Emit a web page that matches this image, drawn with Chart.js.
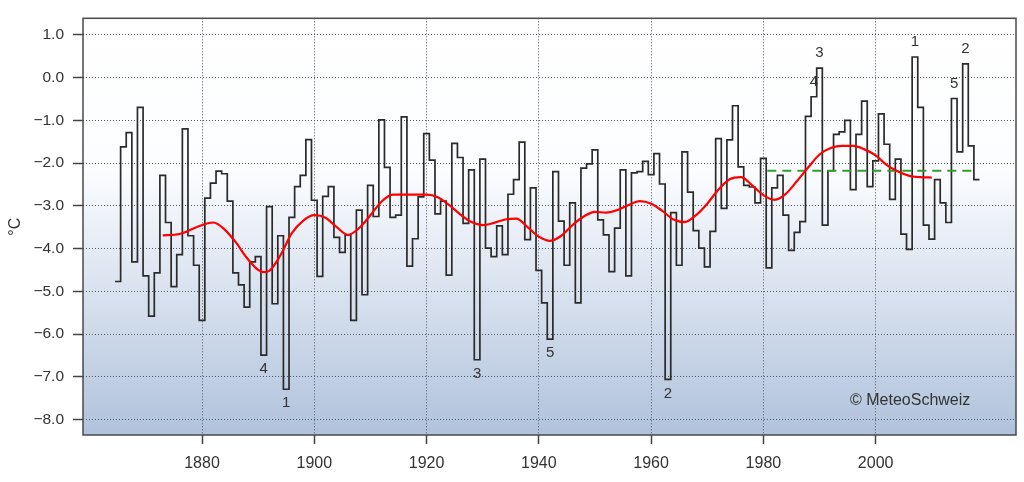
<!DOCTYPE html>
<html lang="de">
<head>
<meta charset="utf-8">
<title>Temperatur Winter</title>
<script src="https://cdnjs.cloudflare.com/ajax/libs/Chart.js/4.4.1/chart.umd.min.js"></script>
<style>
  body { margin: 0; background: #fff; }
</style>

<script>
// yearly values, one per year starting at firstYear
var firstYear = 1865;
var temps = [
  -4.77, -1.62, -1.29, -4.31, -0.70, -4.64, -5.58, -4.57, -2.29, -3.39,   // 1865-1874
  -4.89, -4.14, -1.20, -3.70, -4.39, -5.68, -2.82, -2.47, -2.19, -2.25,   // 1875-1884
  -2.89, -4.57, -4.85, -5.37, -4.31, -4.19, -6.49, -3.02, -5.29, -3.70,   // 1885-1894
  -7.29, -3.27, -2.55, -2.29, -1.45, -2.87, -4.65, -2.78, -2.55, -3.74,   // 1895-1904
  -4.09, -3.68, -5.68, -3.10, -5.08, -2.52, -3.25, -0.99, -2.10, -3.27,   // 1905-1914
  -3.22, -0.92, -4.41, -3.77, -2.79, -1.31, -1.93, -3.19, -2.89, -4.62,   // 1915-1924
  -1.54, -1.87, -3.41, -2.16, -6.60, -1.91, -3.99, -4.19, -3.47, -4.14,   // 1925-1934
  -2.73, -2.39, -1.51, -3.79, -2.58, -4.51, -5.27, -6.12, -2.20, -3.36,   // 1935-1944
  -4.39, -2.93, -5.27, -2.12, -2.02, -1.69, -3.33, -3.68, -4.54, -3.52,   // 1945-1954
  -2.16, -4.64, -2.23, -2.20, -1.96, -2.27, -1.78, -2.49, -7.06, -3.16,   // 1955-1964
  -4.39, -1.74, -2.68, -3.58, -3.99, -4.43, -3.60, -1.43, -3.06, -1.46,   // 1965-1974
  -0.66, -2.09, -2.52, -2.56, -2.93, -1.89, -4.45, -2.58, -2.29, -3.22,   // 1975-1984
  -4.04, -3.62, -3.37, -0.91, -0.45, 0.22, -3.45, -2.18, -1.33, -1.27,    // 1985-1994
  -1.00, -2.62, -1.33, -0.55, -2.55, -1.95, -0.85, -1.56, -2.85, -1.91,   // 1995-2004
  -3.66, -4.02, 0.48, -0.70, -3.45, -3.78, -2.39, -2.93, -3.39, -0.49,    // 2005-2014
  -1.74, 0.32, -1.60, -2.39                                               // 2015-2018
];

var smoothYears = [1873, 1876, 1879, 1882, 1884, 1886, 1888, 1890, 1891, 1892, 1894, 1896, 1898,
  1900, 1902, 1904, 1906, 1908, 1910, 1912, 1914, 1917, 1920, 1922, 1924, 1926, 1928, 1930,
  1932, 1934, 1936, 1938, 1940, 1942, 1944, 1946, 1948, 1950, 1952, 1954, 1956, 1958, 1960,
  1962, 1964, 1966, 1968, 1970, 1972, 1974, 1976, 1978, 1980, 1982, 1984, 1986, 1988, 1990,
  1992, 1994, 1996, 1998, 2000, 2002, 2004, 2006, 2008, 2010];
var smoothVals = [-3.69, -3.66, -3.50, -3.39, -3.55, -3.85, -4.22, -4.50, -4.55, -4.52, -4.15, -3.64, -3.35,
  -3.22, -3.28, -3.50, -3.68, -3.52, -3.22, -2.90, -2.74, -2.74, -2.74, -2.80, -2.98, -3.20, -3.38, -3.45,
  -3.40, -3.32, -3.30, -3.50, -3.72, -3.82, -3.70, -3.45, -3.25, -3.14, -3.16, -3.10, -2.98, -2.89, -2.95,
  -3.12, -3.32, -3.38, -3.22, -2.95, -2.62, -2.38, -2.33, -2.52, -2.75, -2.86, -2.72, -2.42, -2.10, -1.80,
  -1.65, -1.60, -1.60, -1.68, -1.82, -2.05, -2.20, -2.30, -2.33, -2.34];

// norm line (green dashed)
var normalFrom = 1980.7;
var normalTo = 2017.2;
var normalVal = -2.18;

// ranks of warmest / coldest years
var rankYears = [2007, 2016, 1990, 1989, 2014, 1895, 1963, 1929, 1891, 1942];
var rankLabels = ['1', '2', '3', '4', '5', '1', '2', '3', '4', '5'];
var rankWarm = [true, true, true, true, true, false, false, false, false, false];

var xTicks = [1880, 1900, 1920, 1940, 1960, 1980, 2000];
var yTicks = [1, 0, -1, -2, -3, -4, -5, -6, -7, -8];

function tempAt(year){
  return temps[year - firstYear];
}

var backdrop = {
  id: 'backdrop',
  beforeDraw: function(chart){
    var ctx = chart.ctx, a = chart.chartArea;
    ctx.save();
    ctx.fillStyle = '#ffffff';
    ctx.fillRect(0, 0, chart.width, chart.height);
    var g = ctx.createLinearGradient(0, a.top, 0, a.bottom);
    g.addColorStop(0, '#ffffff');
    g.addColorStop(0.36, '#fcfdff');
    g.addColorStop(1, '#b0c2dc');
    ctx.fillStyle = g;
    ctx.fillRect(a.left, a.top, a.right - a.left, a.bottom - a.top);
    ctx.restore();
  },
  afterDraw: function(chart){
    var ctx = chart.ctx, a = chart.chartArea;
    var xs = chart.scales.x, ys = chart.scales.y;
    ctx.save();
    // rank numbers
    ctx.fillStyle = '#333';
    ctx.font = '15px "Liberation Sans", Arial, sans-serif';
    ctx.textAlign = 'center';
    ctx.textBaseline = 'middle';
    for (var i = 0; i < rankYears.length; i++) {
      var px = xs.getPixelForValue(rankYears[i]);
      var py = ys.getPixelForValue(tempAt(rankYears[i]));
      ctx.fillText(rankLabels[i], px, rankWarm[i] ? py - 15 : py + 14);
    }
    // copyright
    ctx.font = '16px "Liberation Sans", Arial, sans-serif';
    ctx.textAlign = 'left';
    ctx.fillText('\u00a9 MeteoSchweiz', 850, 401);
    // frame
    ctx.strokeStyle = '#4a4a4a';
    ctx.lineWidth = 1.5;
    ctx.strokeRect(a.left, a.top, a.right - a.left, a.bottom - a.top);
    ctx.restore();
  }
};

function go(){
  var stepPts = temps.map(function(v, i){ return {x: firstYear + i - 0.5, y: v}; });
  stepPts.push({x: firstYear + temps.length - 0.5, y: temps[temps.length - 1]});

  var smoothPts = smoothYears.map(function(y, i){ return {x: y, y: smoothVals[i]}; });

  Chart.defaults.font.family = '"Liberation Sans", Arial, sans-serif';
  Chart.defaults.color = '#333';

  var ctx = document.getElementById('myChart');
  new Chart(ctx, {
    type: 'line',
    data: {
      datasets: [{
        label: 'Jahreswerte',
        data: stepPts,
        stepped: 'before',
        borderColor: '#2a2a2a',
        borderWidth: 1.7,
        pointRadius: 0,
        fill: false,
        order: 3
      }, {
        label: 'Norm',
        data: [{x: normalFrom, y: normalVal}, {x: normalTo, y: normalVal}],
        borderColor: '#2f9e2f',
        borderWidth: 2,
        borderDash: [9, 6],
        pointRadius: 0,
        fill: false,
        order: 2
      }, {
        label: 'Gauss',
        data: smoothPts,
        borderColor: '#ff0000',
        borderWidth: 2.2,
        cubicInterpolationMode: 'monotone',
        pointRadius: 0,
        fill: false,
        order: 1
      }]
    },
    options: {
      responsive: false,
      animation: false,
      devicePixelRatio: 1,
      layout: { padding: { top: 12, right: 8, left: 0, bottom: 0 } },
      plugins: { legend: { display: false }, tooltip: { enabled: false } },
      scales: {
        x: {
          type: 'linear',
          min: 1858.8,
          max: 2025.0,
          afterBuildTicks: function(s){ s.ticks = xTicks.map(function(v){ return {value: v}; }); },
          afterFit: function(s){ s.height = 47; },
          ticks: {
            font: { size: 16 },
            color: '#333',
            padding: 10,
            maxRotation: 0,
            callback: function(v){ return String(v); }
          },
          grid: {
            color: '#4f5866',
            lineWidth: 1,
            tickLength: 9,
            tickColor: '#444',
            tickWidth: 1.5,
            tickBorderDash: []
          },
          border: { display: false, dash: [1, 2] }
        },
        y: {
          min: -8.36,
          max: 1.385,
          afterBuildTicks: function(s){ s.ticks = yTicks.map(function(v){ return {value: v}; }); },
          afterFit: function(s){ s.width = 83; },
          title: { display: true, text: '°C', font: { size: 16 }, color: '#333', padding: { top: 6, bottom: 0 } },
          ticks: {
            font: { size: 15.5 },
            color: '#333',
            padding: 9,
            callback: function(v){ return v.toFixed(1).replace('-', '\u2212'); }
          },
          grid: {
            color: '#4f5866',
            lineWidth: 1,
            tickLength: 10,
            tickColor: '#444',
            tickWidth: 1.5,
            tickBorderDash: []
          },
          border: { display: false, dash: [1, 2] }
        }
      }
    },
    plugins: [backdrop]
  });
}
</script>
</head>
<body onload="go();">
<canvas id="myChart" width="1024" height="482"></canvas>
</body>
</html>
